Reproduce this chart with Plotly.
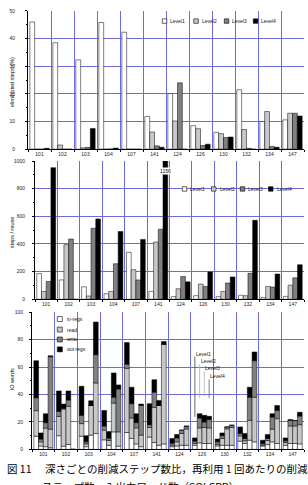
import numpy as np
import plotly.graph_objects as go

# ---------------- data ----------------
cats = ["101", "102", "103", "104", "107", "141", "124", "126", "130", "132", "134", "147"]
level_names = ["Level1", "Level2", "Level3", "Level4"]
io_names = ["in-regs", "read", "write", "out-regs"]

# eliminated steps (%)
elim_L1 = [46.0, 38.5, 32.3, 45.8, 42.3, 11.8, 20.1, 8.5, 6.1, 21.5, 10.0, 10.6]
elim_L2 = [0.0, 1.5, 0.5, 0.0, 0.0, 6.2, 10.2, 7.4, 5.6, 7.1, 13.6, 13.0]
elim_L3 = [0.0, 0.0, 0.6, 0.1, 0.0, 1.2, 24.0, 1.3, 4.2, 0.3, 1.0, 13.0]
elim_L4 = [0.3, 0.0, 7.5, 0.4, 0.0, 0.7, 0.0, 1.8, 4.4, 0.0, 0.7, 12.0]

# steps / reuse
steps_L1 = [186, 140, 90, 40, 340, 57, 19, 26, 19, 29, 12, 21]
steps_L2 = [57, 395, 24, 57, 214, 414, 76, 110, 57, 26, 93, 102]
steps_L3 = [129, 436, 514, 257, 140, 507, 164, 93, 117, 188, 88, 155]
steps_L4 = [952, 0, 581, 490, 433, 1156, 126, 198, 162, 571, 183, 250]

# IO words (stacked: in-regs, read, write, out-regs)
in_regs_L1 = [9.6, 10, 9.6, 7, 12.3, 9, 2, 3, 2.5, 6, 2.5, 3]
read_L1 = [18.6, 14, 9.2, 7, 46.7, 7, 1, 1.3, 1.1, 3.9, 0.6, 2]
write_L1 = [9.4, 3.7, 6, 3, 3.1, 2, 1.5, 1.7, 1.9, 1.7, 1.2, 1.3]
out_regs_L1 = [27, 14.9, 21.2, 11.4, 15.7, 15.3, 3.5, 2.4, 2, 4.8, 2.4, 2.1]

in_regs_L2 = [2.5, 2.4, 2, 3, 8, 5, 2.5, 4.8, 3, 4.3, 3.5, 4.3]
read_L2 = [3, 27, 2, 3.5, 14.9, 25.6, 3, 10.9, 5, 2, 3, 12.8]
write_L2 = [2, 0.6, 1.5, 1.7, 10.4, 11.1, 2.9, 7.2, 2, 1.7, 1.5, 4.1]
out_regs_L2 = [4.5, 3, 4.5, 4.8, 12, 9.1, 2.4, 3.1, 2, 3.6, 2.8, 0.5]

in_regs_L3 = [2, 3.6, 10.4, 12.8, 4, 3, 3, 4.3, 3, 6.7, 5.5, 4.3]
read_L3 = [13.5, 27.7, 21.6, 20.9, 11.7, 29, 8.6, 11.7, 12, 14.5, 9.2, 12.8]
write_L3 = [4, 4.7, 0, 4.3, 3.8, 0, 2.4, 4, 1.4, 16.8, 8.9, 3.9]
out_regs_L3 = [6.5, 6.6, 3.4, 17.7, 6.5, 3.7, 0, 4.8, 0, 7.3, 2.4, 0]

in_regs_L4 = [1.2, 0, 11.6, 2.4, 2, 4, 3, 4.3, 3, 5.5, 4.3, 4]
read_L4 = [13.5, 0, 36.8, 10.4, 8.4, 72.6, 11.9, 11.4, 13, 32.5, 18.1, 14]
write_L4 = [52.8, 0, 20.6, 31.2, 21.6, 0, 2, 6, 1.6, 26.6, 6, 6.3]
out_regs_L4 = [0.7, 0, 23.8, 3, 1, 2, 0.1, 2.4, 0, 6.4, 3.6, 2.7]

y1_ticks = [0, 10, 20, 30, 40, 50]
y2_ticks = [0, 200, 400, 600, 800, 1000]
y3_ticks = [0, 20, 40, 60, 80, 100]

caption_1 = "深さごとの削減ステップ数比，再利用 1 回あたりの削減"
caption_2 = "ステップ数，入出力ワード数（SOLCPR）"

# ---------------- styling ----------------
W, H = 308, 485
GRID = "#6b6bdc"
FILLS = ["#ffffff", "#c8c8c8", "#808080", "#000000"]
FONT = "Liberation Sans, Arial, sans-serif"
BARGAP = 0.16
GW = 1 - BARGAP          # width of the group of 4 bars (category units)
BW = GW / 4              # width of one bar
OFFS = [-GW / 2 + BW * k for k in range(4)]           # left edge of each bar
CENTERS = [o + BW / 2 for o in OFFS]                   # center of each bar


def px(x):
    return x / W


def py(y):
    return 1 - y / H


elim = [elim_L1, elim_L2, elim_L3, elim_L4]
steps = [steps_L1, steps_L2, steps_L3, steps_L4]
io = [
    [in_regs_L1, read_L1, write_L1, out_regs_L1],
    [in_regs_L2, read_L2, write_L2, out_regs_L2],
    [in_regs_L3, read_L3, write_L3, out_regs_L3],
    [in_regs_L4, read_L4, write_L4, out_regs_L4],
]

fig = go.Figure()
bar_line = dict(color="black", width=0.5)

for k in range(4):
    fig.add_trace(go.Bar(x=cats, y=elim[k], name=level_names[k], offset=OFFS[k], width=BW,
                         marker=dict(color=FILLS[k], line=bar_line),
                         xaxis="x", yaxis="y", showlegend=False))
for k in range(4):
    fig.add_trace(go.Bar(x=cats, y=steps[k], name=level_names[k], offset=OFFS[k], width=BW,
                         marker=dict(color=FILLS[k], line=bar_line),
                         xaxis="x2", yaxis="y2", showlegend=False))
for k in range(4):
    base = np.zeros(len(cats))
    for c in range(4):
        vals = np.array(io[k][c], dtype=float)
        fig.add_trace(go.Bar(x=cats, y=vals, base=base.copy(), offset=OFFS[k], width=BW,
                             name=f"{io_names[c]} {level_names[k]}",
                             marker=dict(color=FILLS[c], line=bar_line),
                             xaxis="x3", yaxis="y3", showlegend=False))
        base = base + vals

xcommon = dict(type="category", tickson="boundaries", showgrid=True, gridcolor=GRID,
               gridwidth=0.8, showline=True, linecolor="black", linewidth=1,
               ticks="outside", ticklen=2, tickwidth=0.8, tickcolor="black",
               tickfont=dict(family=FONT, size=5, color="#222"), fixedrange=True,
               range=[-0.5, len(cats) - 0.5])
ycommon = dict(showgrid=True, gridcolor=GRID, gridwidth=0.8, showline=True,
               linecolor="black", linewidth=1, ticks="outside", ticklen=2,
               tickwidth=0.8, tickcolor="black", zeroline=False,
               tickfont=dict(family=FONT, size=5, color="#222"), fixedrange=True)

fig.update_layout(
    width=W, height=H, margin=dict(l=0, r=0, t=0, b=0),
    paper_bgcolor="white", plot_bgcolor="white",
    barmode="overlay",
    showlegend=False,
    xaxis=dict(xcommon, domain=[px(28), px(304)], anchor="y"),
    yaxis=dict(ycommon, domain=[py(148), py(8)], anchor="x", range=[0, 50],
               tickvals=y1_ticks, ticklabelstandoff=9,
               minor=dict(ticks="outside", ticklen=1.5, dtick=5, tickcolor="black", showgrid=False)),
    xaxis2=dict(xcommon, domain=[px(35), px(304)], anchor="y2"),
    yaxis2=dict(ycommon, domain=[py(300), py(160)], anchor="x2", range=[0, 1000],
                tickvals=y2_ticks, ticklabelstandoff=6,
                minor=dict(ticks="outside", ticklen=1.5, dtick=100, tickcolor="black", showgrid=False)),
    xaxis3=dict(xcommon, domain=[px(32), px(304)], anchor="y3"),
    yaxis3=dict(ycommon, domain=[py(452), py(313)], anchor="x3", range=[0, 100],
                tickvals=y3_ticks, ticklabelstandoff=5,
                minor=dict(ticks="outside", ticklen=1.5, dtick=10, tickcolor="black", showgrid=False)),
)

shapes = []
annots = []
lfont = dict(family=FONT, size=5, color="#111")


def legend_item(x0, yc, label, fill, size=4.5, tx=None):
    shapes.append(dict(type="rect", xref="paper", yref="paper",
                       x0=px(x0), x1=px(x0 + size), y0=py(yc + size / 2), y1=py(yc - size / 2),
                       fillcolor=fill, line=dict(color="black", width=0.6), layer="above"))
    annots.append(dict(xref="paper", yref="paper", x=px(tx if tx else x0 + size + 1.5), y=py(yc),
                       text=label, showarrow=False, xanchor="left", yanchor="middle",
                       font=lfont))


# white backgrounds for legends (between grid and bars)
for (bx0, by0, bx1, by1) in [(159, 13, 280, 24), (179, 183, 296, 194), (56, 314, 96, 357)]:
    shapes.append(dict(type="rect", xref="paper", yref="paper", x0=px(bx0), x1=px(bx1),
                       y0=py(by1), y1=py(by0), fillcolor="white", line=dict(width=0),
                       layer="between"))

for k, x0 in enumerate([162.3, 193.8, 224.3, 253.3]):
    legend_item(x0, 18.3, level_names[k], FILLS[k])
for k, x0 in enumerate([182.3, 211.5, 240.3, 268.5]):
    legend_item(x0, 188.3, level_names[k], FILLS[k])
for c, yc in enumerate([320, 330.7, 340.7, 350.7]):
    legend_item(57.3, yc, io_names[c], FILLS[c], size=5, tx=65)

# axis titles
for text, yc in [("eliminated steps (%)", 80), ("steps / reuse", 232), ("IO words", 381)]:
    annots.append(dict(xref="paper", yref="paper", x=px(12), y=py(yc), text=text,
                       textangle=-90, showarrow=False, xanchor="center", yanchor="middle",
                       font=dict(family=FONT, size=5.5, color="#111")))

# clipped value label for the tall bar
i141 = cats.index("141")
annots.append(dict(xref="x2", yref="y2", x=i141 + CENTERS[3], y=928, text=str(steps_L4[i141]),
                   showarrow=False, bgcolor="white", font=dict(family=FONT, size=5, color="#111"),
                   borderpad=0))

# Level pointers in IO panel
i126 = cats.index("126")
ptr_text_y = [69.8, 64.2, 59.0, 53.2]
ptr_line = [(67.6, 23.7), (61.9, 37.4), (56.8, 38.8), (51.0, 37.4)]
ptr_col = ["#444444", "#b0b0b0", "#b0b0b0", "#666666"]
for k in range(4):
    xk = i126 + CENTERS[k]
    shapes.append(dict(type="line", xref="x3", yref="y3", x0=xk, x1=xk,
                       y0=ptr_line[k][1], y1=ptr_line[k][0],
                       line=dict(color=ptr_col[k], width=0.8), layer="above"))
    annots.append(dict(xref="x3", yref="y3", x=xk, y=ptr_text_y[k], text=level_names[k],
                       showarrow=False, xanchor="left", yanchor="middle", xshift=-1,
                       font=lfont))

# caption
cfont = dict(family="Noto Sans CJK JP", size=10.5, color="black")
annots.append(dict(xref="paper", yref="paper", x=px(5), y=py(471), text="図 11",
                   showarrow=False, xanchor="left", yanchor="middle", font=cfont))
annots.append(dict(xref="paper", yref="paper", x=px(43), y=py(471), text=caption_1,
                   showarrow=False, xanchor="left", yanchor="middle", font=cfont))
annots.append(dict(xref="paper", yref="paper", x=px(40), y=py(490), text=caption_2,
                   showarrow=False, xanchor="left", yanchor="middle", font=cfont))

fig.update_layout(shapes=shapes, annotations=annots)
fig.write_html("out.html")
